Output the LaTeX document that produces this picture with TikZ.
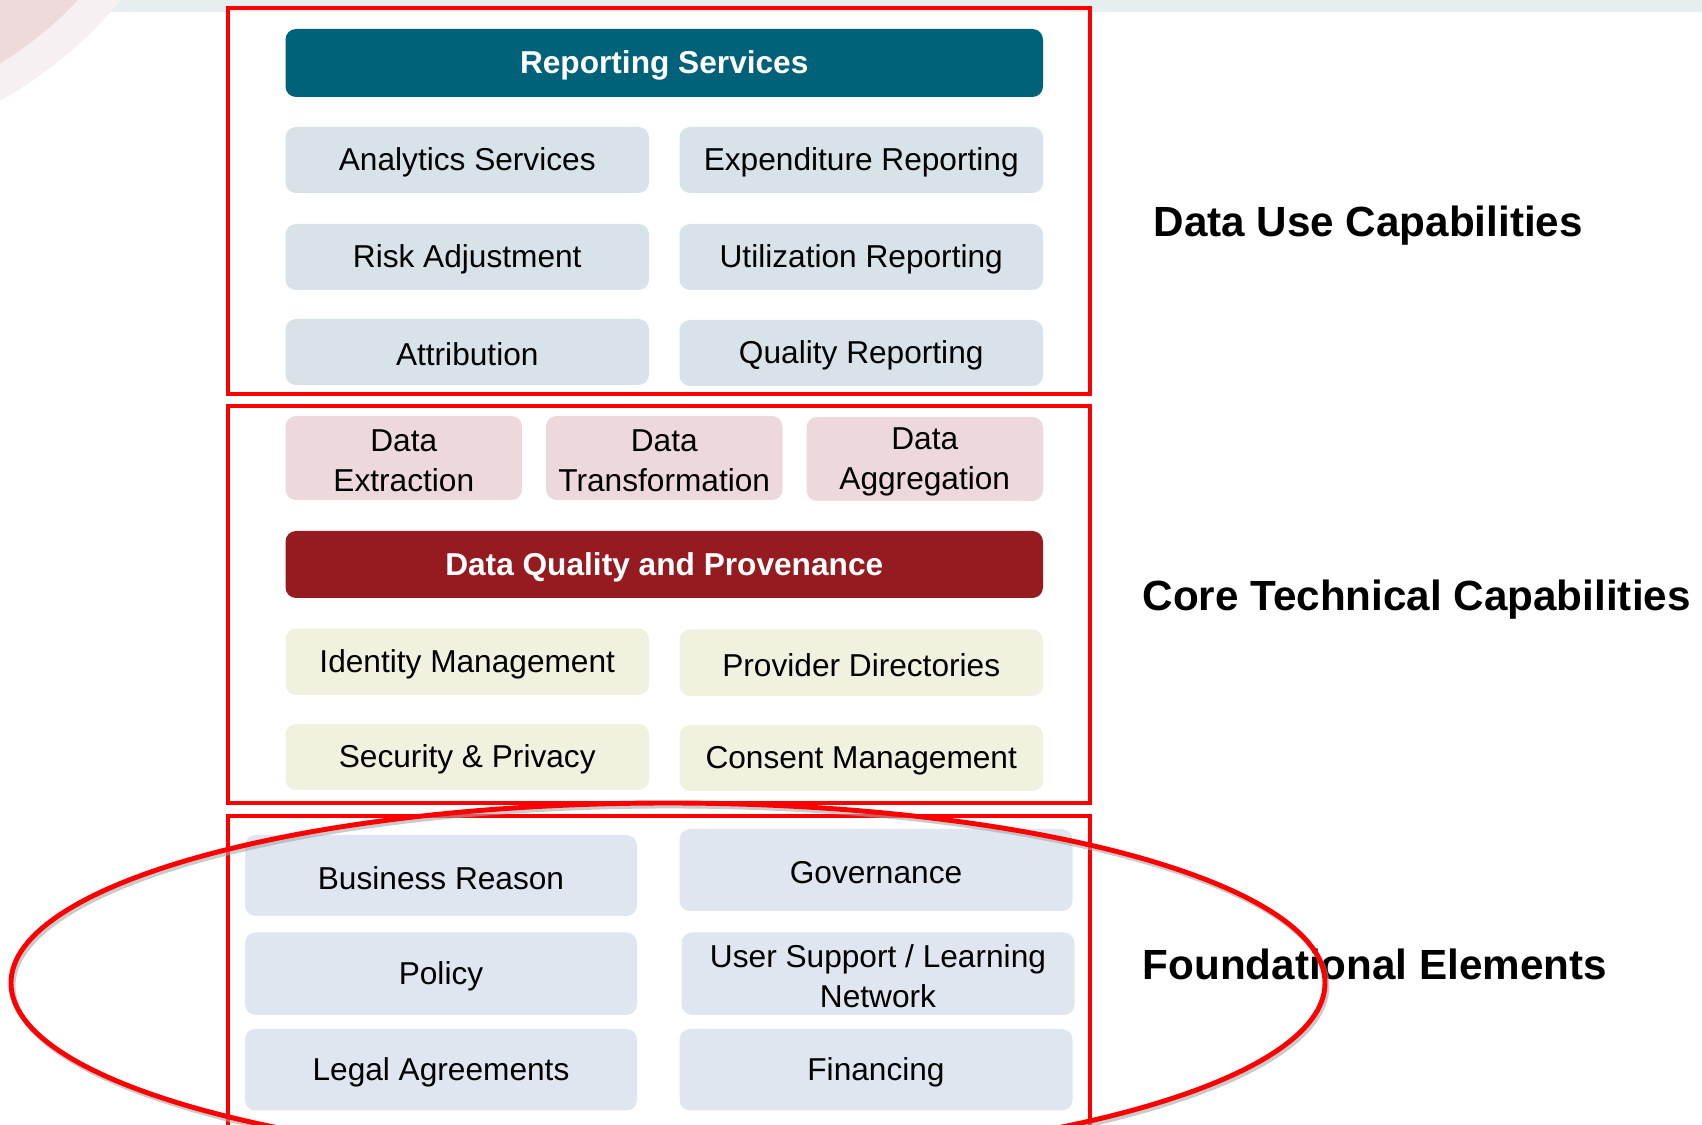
\documentclass[tikz,border=0pt]{standalone}
\usepackage{fontspec}
\setmainfont{Liberation Sans}
\usetikzlibrary{calc}
\definecolor{bandgray}{HTML}{E6EEF0}
\definecolor{ringpink}{HTML}{F6F0F3}
\definecolor{discpink}{HTML}{EED9DB}
\definecolor{usefill}{HTML}{D7E3E9}
\definecolor{reportteal}{HTML}{006278}
\definecolor{flowpink}{HTML}{EDD9DB}
\definecolor{qualityred}{HTML}{961B20}
\definecolor{techfill}{HTML}{F0F2DF}
\definecolor{basefill}{HTML}{DFE6EF}
\tikzset{
	usecap/.style={fill=usefill},
	flowcap/.style={fill=flowpink},
	techcap/.style={fill=techfill},
	basecap/.style={fill=basefill},
	barcap/.style={text=white, font=\fontsize{9}{11.4}\selectfont\bfseries},
	layer/.style={draw=red, line width=1.15pt},
	heading/.style={anchor=west, inner sep=0pt, font=\fontsize{12}{14}\selectfont\bfseries},
}
% rounded box from corner to corner, named text node in the middle
\def\capbox[#1](#2)(#3)#4#5{\fill[#1,rounded corners=3pt] (#2) rectangle (#3); \node[#1,align=center,inner sep=0pt,yshift=-0.7pt] (#4) at ($(#2)!0.5!(#3)$) {#5};}

\begin{document}
\begin{tikzpicture}[x=0.01cm, y=-0.01cm, font=\fontsize{9}{11.4}\selectfont]
			\clip (0, 0) rectangle (1702, 1125);
			%%%%% START %%%%%
			\fill[bandgray] (0, 0) rectangle (1702, 12);
			\fill[ringpink] (-200, -262) circle [radius=414];
			\fill[discpink] (-200, -262) circle [radius=382];
			
			% data use
			\capbox[fill=reportteal, barcap](285.5, 29)(1043, 97){report}{Reporting Services}
			\capbox[usecap](285.5, 127)(649, 193){analytics}{Analytics Services}
			\capbox[usecap](679.5, 127)(1043, 193){expend}{Expenditure Reporting}
			\capbox[usecap](285.5, 224)(649, 290){risk}{Risk Adjustment}
			\capbox[usecap](679.5, 224)(1043, 290){util}{Utilization Reporting}
			\capbox[usecap](285.5, 319)(649, 385){attrib}{Attribution}
			\capbox[usecap](679.5, 320)(1043, 386){quality}{Quality Reporting}
			
			% core technical
			\capbox[flowcap](285.5, 416)(522, 500){extract}{Data\\Extraction}
			\capbox[flowcap](546, 416)(782.5, 500){transform}{Data\\Transformation}
			\capbox[flowcap](806.5, 417)(1043, 501){aggregate}{Data\\Aggregation}
			\capbox[fill=qualityred, barcap](285.5, 531)(1043, 598){provenance}{Data Quality and Provenance}
			\capbox[techcap](285.5, 628.5)(649, 695){identity}{Identity Management}
			\capbox[techcap](679.5, 629.5)(1043, 696){directory}{Provider Directories}
			\capbox[techcap](285.5, 724)(649, 790){security}{Security \& Privacy}
			\capbox[techcap](679.5, 725)(1043, 791){consent}{Consent Management}
			
			% foundational
			\capbox[basecap](245, 835)(637, 916){business}{Business Reason}
			\capbox[basecap](679.5, 829)(1072.5, 911){governance}{Governance}
			\capbox[basecap](245, 932.5)(637, 1015){policy}{Policy}
			\capbox[basecap](681.5, 932.5)(1074.5, 1015){support}{User Support / Learning\\Network}
			\capbox[basecap](245, 1029)(637, 1110.5){legal}{Legal Agreements}
			\capbox[basecap](679.5, 1029)(1072.5, 1110.5){financing}{Financing}
			
			\draw[layer] (228, 8) rectangle (1090, 394);
			\draw[layer] (228, 406) rectangle (1090, 803);
			\draw[layer] (228, 816) rectangle (1090, 1140);
			
			\node[heading] (uselabel) at (1153, 226) {Data Use Capabilities};
			\node[heading] (corelabel) at (1142, 600) {Core Technical Capabilities};
			\node[heading] (baselabel) at (1142, 964) {Foundational Elements};
			
			\draw[black!35, line width=1.4pt, opacity=0.6] (670, 986) ellipse [x radius=657, y radius=180];
			\draw[red, line width=1.4pt] (668, 983) ellipse [x radius=657, y radius=180];
			%%%%% END %%%%%
		\end{tikzpicture}
\end{document}
